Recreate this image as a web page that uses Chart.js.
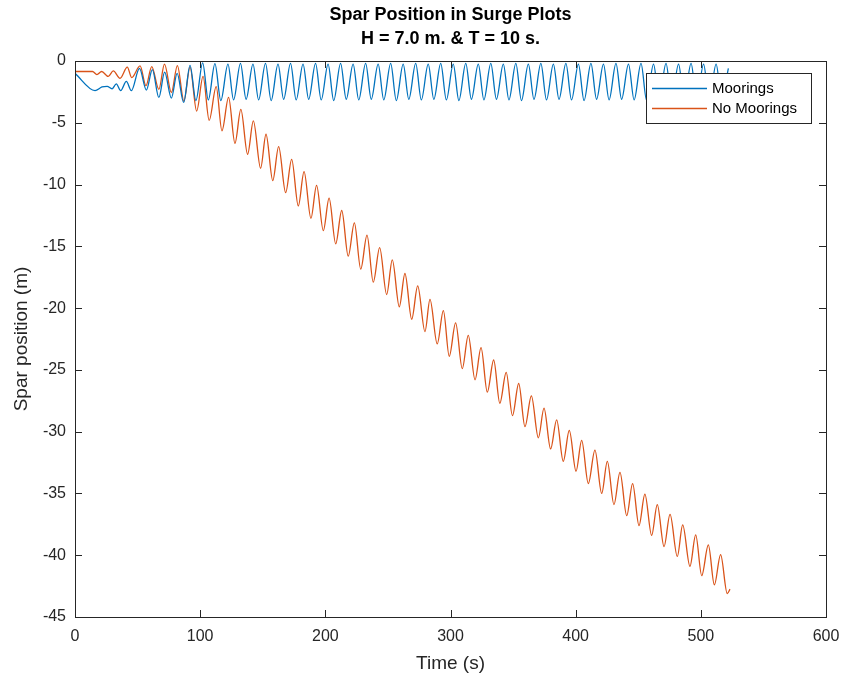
<!DOCTYPE html>
<html>
<head>
<meta charset="utf-8">
<script src="https://cdn.jsdelivr.net/npm/chart.js@4/dist/chart.umd.min.js"></script>
<style>
  html, body { margin: 0; padding: 0; background: #fff; }
  #wrap { width: 846px; height: 680px; }
</style>
</head>
<body>
<div id="wrap"><canvas id="surge" width="846" height="680"></canvas></div>
<script>
// ── data (time in s, position in m) ──
const titleLines = ['Spar Position in Surge Plots', 'H = 7.0 m. & T = 10 s.'];
const seriesNames = ['Moorings', 'No Moorings'];

const mooringTime = [
  0, 16, 21.6, 25.7, 29.6, 33, 36.5, 41, 45, 51.5, 57, 61.8, 67, 71.6, 77, 81.6,
  86.8, 91.9, 96.6, 102, 106.5, 111.8, 116.5,
  122.2, 126.7, 132.2, 136.7, 142.2, 146.7, 152.2, 156.7, 162.2, 166.7,
  172.2, 176.7, 182.2, 186.7, 192.2, 196.7, 202.2, 206.7, 212.2, 216.7,
  222.2, 226.7, 232.2, 236.7, 242.2, 246.7, 252.2, 256.7, 262.2, 266.7,
  272.2, 276.7, 282.2, 286.7, 292.2, 296.7, 302.2, 306.7, 312.2, 316.7,
  322.2, 326.7, 332.2, 336.7, 342.2, 346.7, 352.2, 356.7, 362.2, 366.7,
  372.2, 376.7, 382.2, 386.7, 392.2, 396.7, 402.2, 406.7, 412.2, 416.7,
  422.2, 426.7, 432.2, 436.7, 442.2, 446.7, 452.2, 456.7, 462.2, 466.7,
  472.2, 476.7, 482.2, 486.7, 492.2, 496.7, 502.2, 506.7, 512.2, 516.7, 522
];
const mooringPos = [
  -1.0, -2.4, -2.1, -2.05, -2.25, -1.85, -2.4, -1.65, -2.4, -0.6, -2.35, -0.7, -2.95, -0.9, -3.0, -1.0,
  -3.35, -0.35, -3.2, -0.15, -3.15, -0.22, -3.2,
  -0.25, -3.15, -0.2, -3.1, -0.25, -3.15, -0.2, -3.2, -0.25, -3.1,
  -0.2, -3.15, -0.25, -3.1, -0.2, -3.15, -0.25, -3.2, -0.2, -3.1,
  -0.25, -3.15, -0.2, -3.1, -0.25, -3.15, -0.2, -3.2, -0.25, -3.1,
  -0.2, -3.15, -0.25, -3.1, -0.2, -3.15, -0.25, -3.2, -0.2, -3.1,
  -0.25, -3.15, -0.2, -3.1, -0.25, -3.15, -0.2, -3.2, -0.25, -3.1,
  -0.2, -3.15, -0.25, -3.1, -0.2, -3.15, -0.25, -3.2, -0.2, -3.1,
  -0.25, -3.15, -0.2, -3.1, -0.25, -3.15, -0.2, -3.2, -0.25, -3.1,
  -0.2, -3.15, -0.25, -3.1, -0.2, -3.15, -0.25, -3.2, -0.25, -3.1, -0.6
];

const freeTime = [
  0, 14, 17.5, 21.3, 26.6, 30.6, 36, 41.8, 45.3, 52, 56.7, 61.3, 67, 71.5, 77, 81.8,
  87, 91.9, 97.2, 102.3, 107.2, 112.8, 117.4, 122.7, 127.8, 132.5, 137.9, 142.5,
  148.3, 152.6, 158, 162.7, 168.3, 173.1, 178.4, 183, 188.5, 193, 198.4, 203,
  208.3, 213.1, 218.3, 223.2, 228.3, 233.3, 238.3, 243.4, 249, 253.5, 259.1, 263.6,
  269, 273.8, 279.6, 283.6, 289.4, 294.3, 299, 304.1, 309.4, 314.2, 319.6, 324.4,
  329.4, 334.5, 339.4, 344.5, 349.5, 354.5, 359.5, 364.6, 370.2, 374.7, 380, 384.8,
  390.1, 394.9, 400.3, 404.8, 410.1, 415.4, 420.8, 425.3, 430.6, 435.4, 440.8, 445.5,
  450.6, 455.3, 460.7, 465.2, 470.6, 475.4, 481.2, 485.5, 491.3, 495.9, 500.7, 506,
  510.8, 515.8, 521.1, 523.3
];
const freePos = [
  -0.85, -0.85, -1.1, -0.85, -1.25, -0.8, -1.4, -0.5, -1.35, -0.4, -2.0, -0.45, -2.3, -0.25, -2.55, -0.38,
  -3.25, -0.5, -4.05, -1.25, -4.8, -2.08, -5.65, -2.95, -6.66, -3.92, -7.55, -4.85,
  -8.68, -5.93, -9.68, -6.93, -10.66, -7.96, -11.73, -8.96, -12.73, -10.06, -13.73, -11.1,
  -14.8, -12.1, -15.8, -13.1, -16.85, -14.1, -17.9, -15.1, -18.9, -16.1, -19.9, -17.2,
  -20.9, -18.2, -21.9, -19.3, -22.9, -20.2, -23.9, -21.2, -24.9, -22.2, -25.8, -23.2,
  -26.8, -24.2, -27.7, -25.2, -28.7, -26.1, -29.6, -27.1, -30.5, -28.1, -31.4, -29.05,
  -32.4, -29.9, -33.2, -30.7, -34.2, -31.5, -35.0, -32.4, -35.9, -33.3, -36.8, -34.2,
  -37.6, -35.05, -38.4, -35.9, -39.3, -36.7, -40.1, -37.55, -40.9, -38.36, -41.65, -39.17,
  -42.4, -39.95, -43.1, -42.75
];

const xTicks = [0, 100, 200, 300, 400, 500, 600];
const yTicks = [0, -5, -10, -15, -20, -25, -30, -35, -40, -45];

// ── 樣式 ──
const BLUE = '#0072BD';
const ORANGE = '#D95319';
const AXIS = '#262626';
const FONT = '"Liberation Sans", Arial, Helvetica, sans-serif';

const toPoints = (ts, vs) => ts.map((t, i) => ({ x: t, y: vs[i] }));

// two-line bold title centred over the axes (as MATLAB does)
const axesTitle = {
  id: 'axesTitle',
  afterDraw(chart) {
    const { ctx, chartArea: a } = chart;
    const cx = (a.left + a.right) / 2;
    ctx.save();
    ctx.fillStyle = '#000';
    ctx.font = 'bold 18px ' + FONT;
    ctx.textAlign = 'center';
    ctx.textBaseline = 'middle';
    titleLines.forEach((line, i) => ctx.fillText(line, cx, 15 + i * 24));
    ctx.restore();
  }
};

// MATLAB-like box with inward ticks, drawn over the lines
const frameTicks = {
  id: 'frameTicks',
  afterDatasetsDraw(chart) {
    const { ctx, chartArea: a, scales } = chart;
    const len = 7;
    ctx.save();
    ctx.strokeStyle = AXIS;
    ctx.lineWidth = 1;
    ctx.beginPath();
    scales.x.ticks.forEach(t => {
      const px = Math.round(scales.x.getPixelForValue(t.value)) + 0.5;
      ctx.moveTo(px, a.bottom); ctx.lineTo(px, a.bottom - len);
      ctx.moveTo(px, a.top); ctx.lineTo(px, a.top + len);
    });
    scales.y.ticks.forEach(t => {
      const py = Math.round(scales.y.getPixelForValue(t.value)) + 0.5;
      ctx.moveTo(a.left, py); ctx.lineTo(a.left + len, py);
      ctx.moveTo(a.right, py); ctx.lineTo(a.right - len, py);
    });
    ctx.stroke();
    ctx.strokeRect(Math.round(a.left) + 0.5, Math.round(a.top) + 0.5,
      Math.round(a.right - a.left), Math.round(a.bottom - a.top));
    ctx.restore();
  }
};

// legend box in the upper right of the axes
const boxLegend = {
  id: 'boxLegend',
  afterDraw(chart) {
    const { ctx, chartArea: a } = chart;
    const w = 165, h = 50;
    const x0 = Math.round(a.right) - 15 - w, y0 = Math.round(a.top) + 12;
    ctx.save();
    ctx.fillStyle = '#fff';
    ctx.fillRect(x0, y0, w, h);
    ctx.strokeStyle = AXIS;
    ctx.lineWidth = 1;
    ctx.strokeRect(x0 + 0.5, y0 + 0.5, w, h);
    ctx.font = '15px ' + FONT;
    ctx.textBaseline = 'middle';
    chart.data.datasets.forEach((ds, i) => {
      const yy = y0 + 15.5 + i * 20;
      ctx.strokeStyle = ds.borderColor;
      ctx.lineWidth = 1.3;
      ctx.beginPath();
      ctx.moveTo(x0 + 6, yy); ctx.lineTo(x0 + 61, yy);
      ctx.stroke();
      ctx.fillStyle = '#000';
      ctx.fillText(ds.label, x0 + 66, yy);
    });
    ctx.restore();
  }
};

new Chart(document.getElementById('surge'), {
  type: 'line',
  data: {
    datasets: [
      {
        label: seriesNames[0],
        data: toPoints(mooringTime, mooringPos),
        borderColor: BLUE,
        borderWidth: 1.3,
        pointRadius: 0,
        cubicInterpolationMode: 'monotone',
        fill: false
      },
      {
        label: seriesNames[1],
        data: toPoints(freeTime, freePos),
        borderColor: ORANGE,
        borderWidth: 1.3,
        pointRadius: 0,
        cubicInterpolationMode: 'monotone',
        fill: false
      }
    ]
  },
  options: {
    responsive: false,
    animation: false,
    devicePixelRatio: 1,
    layout: { padding: { left: 0, right: 20, top: 61, bottom: 0 } },
    plugins: {
      legend: { display: false },
      tooltip: { enabled: false },
      title: { display: false }
    },
    scales: {
      x: {
        type: 'linear',
        min: 0, max: 600,
        afterBuildTicks: s => { s.ticks = xTicks.map(v => ({ value: v })); },
        afterFit: s => { s.height = 63; s.paddingLeft = 0; s.paddingRight = 0; },
        grid: { display: false, drawTicks: false },
        border: { display: false },
        ticks: { color: AXIS, font: { family: FONT, size: 16 }, padding: 10, maxRotation: 0 },
        title: {
          display: true, text: 'Time (s)', color: AXIS,
          font: { family: FONT, size: 19 }, padding: { top: 0, bottom: 5 }
        }
      },
      y: {
        min: -45, max: 0,
        afterBuildTicks: s => { s.ticks = yTicks.map(v => ({ value: v })); },
        afterFit: s => { s.width = 75; s.paddingTop = 0; s.paddingBottom = 0; },
        grid: { display: false, drawTicks: false },
        border: { display: false },
        ticks: { color: AXIS, font: { family: FONT, size: 16 }, padding: 9 },
        title: {
          display: true, text: 'Spar position (m)', color: AXIS,
          font: { family: FONT, size: 19 }, padding: { top: 10, bottom: 0 }
        }
      }
    }
  },
  plugins: [axesTitle, frameTicks, boxLegend]
});
</script>
</body>
</html>
